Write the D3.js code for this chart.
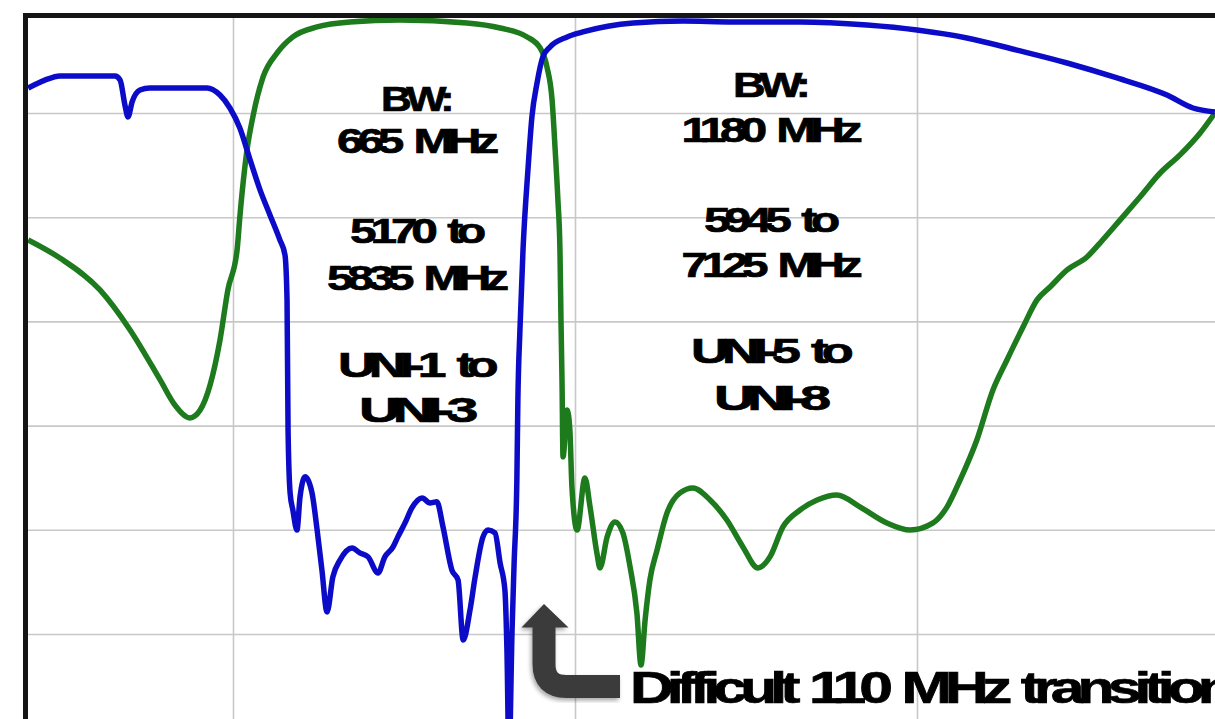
<!DOCTYPE html>
<html>
<head>
<meta charset="utf-8">
<script src="https://cdn.jsdelivr.net/npm/d3@7"></script>
<style>
  html, body { margin: 0; padding: 0; background: #fff; }
  svg { display: block; }
  .lbl { font-family: "Liberation Sans", Arial, sans-serif; font-weight: bold; fill: #000; stroke: #000; stroke-width: 0.7; }
</style>
</head>
<body>
<svg id="chart" width="1215" height="719"></svg>
<script>
// Frequency axis (MHz) and response (dB) samples for the two filter traces
const blueFreq = [4401,4450,4494,4655,4670,4684,4693,4705,4728,4757,4924,4962,4991,5020,5050,5079,5108,5137,5152,5158,5161,5167,5175,5187,5196,5211,5231,5246,5260,5275,5292,5313,5348,5371,5395,5424,5444,5468,5482,5503,5523,5553,5576,5596,5614,5640,5658,5673,5693,5708,5731,5746,5766,5781,5795,5801,5807,5816,5822,5830,5833,5839,5848,5863,5874,5889,5906,5927,5977,6023,6170,6316,6462,6658,6854,7000,7146,7292,7439,7585,7731,7807,7871];
const blueDb = [-3.80,-3.42,-3.22,-3.22,-3.42,-4.62,-5.19,-4.47,-3.90,-3.80,-3.80,-4.14,-4.76,-5.72,-7.25,-8.69,-9.89,-11.09,-11.81,-13.97,-20.21,-23.23,-24.05,-25.01,-23.42,-22.46,-23.23,-25.01,-26.93,-28.94,-27.26,-26.45,-25.87,-26.11,-26.30,-27.07,-26.30,-25.82,-25.34,-24.67,-23.95,-23.47,-23.71,-23.66,-24.86,-26.93,-27.41,-30.29,-28.85,-27.26,-25.34,-25.01,-25.15,-26.59,-27.89,-30.77,-36.0,-29.81,-26.59,-22.61,-18.77,-15.41,-11.57,-7.59,-5.19,-3.56,-2.31,-1.83,-1.35,-1.11,-0.68,-0.59,-0.63,-0.63,-0.78,-1.02,-1.40,-1.98,-2.60,-3.32,-4.14,-4.76,-4.95];

const greenFreq = [4401,4494,4611,4699,4787,4830,4874,4904,4933,4962,4985,5012,5020,5041,5058,5088,5129,5175,5246,5342,5488,5684,5781,5860,5898,5918,5933,5942,5950,5956,5959,5962,5965,5977,5985,5991,6006,6029,6044,6064,6073,6094,6117,6140,6161,6181,6193,6205,6219,6240,6269,6307,6345,6395,6444,6491,6535,6570,6608,6658,6708,6766,6833,6912,6980,7047,7088,7126,7175,7222,7263,7310,7351,7389,7439,7497,7535,7594,7652,7711,7769,7828,7871];
const greenDb = [-11.09,-11.96,-13.49,-15.41,-17.81,-19.01,-19.63,-19.25,-18.05,-15.89,-13.49,-11.57,-9.99,-6.77,-5.19,-3.27,-2.12,-1.35,-0.87,-0.63,-0.54,-0.68,-0.92,-1.35,-1.88,-2.79,-4.38,-6.77,-9.17,-11.57,-14.93,-17.81,-21.50,-19.25,-20.21,-22.94,-25.01,-22.51,-23.90,-26.11,-26.83,-25.34,-24.62,-25.15,-26.78,-28.99,-31.49,-29.33,-27.41,-25.97,-24.19,-23.23,-22.99,-23.57,-24.53,-25.82,-26.83,-26.30,-24.86,-24.05,-23.57,-23.33,-23.90,-24.67,-25.01,-24.67,-23.90,-22.61,-20.69,-18.29,-16.85,-15.27,-13.97,-13.35,-12.53,-11.91,-11.24,-10.13,-9.03,-7.88,-7.01,-5.96,-5.00];

// Grid positions
const freqTicks = [5000, 6000, 7000];
const dbTicks = [-5, -10, -15, -20, -25, -30];

// Band annotations (one array of lines per passband)
const lowBandLines = ["BW:", "665 MHz", "5170 to", "5835 MHz", "UNI-1 to", "UNI-3"];
const highBandLines = ["BW:", "1180 MHz", "5945 to", "7125 MHz", "UNI-5 to", "UNI-8"];
const calloutText = "Difficult 110 MHz transition";

// ---- layout ----
const W = 1215, H = 719;
const frame = { left: 25.5, top: 15.5, stroke: 5 };
const inner = { x0: 28, y0: 18 };

const x = d3.scaleLinear().domain([5000, 7000]).range([233, 917]);
const y = d3.scaleLinear().domain([0, -30]).range([8.8, 634]);

const svg = d3.select("#chart");
const defs = svg.append("defs");
defs.append("clipPath").attr("id", "plotClip")
  .append("rect").attr("x", inner.x0).attr("y", inner.y0)
  .attr("width", W - inner.x0).attr("height", H - inner.y0);
const shadow = defs.append("filter").attr("id", "soft")
  .attr("x", "-20%").attr("y", "-20%").attr("width", "140%").attr("height", "140%");
shadow.append("feDropShadow").attr("dx", -1.5).attr("dy", 2.5)
  .attr("stdDeviation", 2).attr("flood-color", "#000").attr("flood-opacity", 0.35);

svg.append("rect").attr("width", W).attr("height", H).attr("fill", "#fff");

// gridlines
const grid = svg.append("g").attr("clip-path", "url(#plotClip)");
grid.append("g")
  .attr("transform", `translate(0,${H})`)
  .call(d3.axisBottom(x).tickValues(freqTicks).tickSize(H).tickFormat(""))
  .call(g => g.select(".domain").remove())
  .call(g => g.selectAll("line").attr("stroke", "#c8c8c8").attr("stroke-width", 1.6)
    .attr("y2", -H));
grid.append("g")
  .attr("transform", `translate(${W},0)`)
  .call(d3.axisLeft(y).tickValues(dbTicks).tickSize(W).tickFormat(""))
  .call(g => g.select(".domain").remove())
  .call(g => g.selectAll("line").attr("stroke", "#c8c8c8").attr("stroke-width", 1.6));

// traces
const line = d3.line()
  .x(d => x(d[0]))
  .y(d => y(d[1]))
  .curve(d3.curveMonotoneX);

const traces = svg.append("g").attr("clip-path", "url(#plotClip)");
traces.append("path")
  .datum(d3.zip(greenFreq, greenDb))
  .attr("d", line)
  .attr("fill", "none")
  .attr("stroke", "#1d7a1d")
  .attr("stroke-width", 5.5)
  .attr("stroke-linejoin", "round");
traces.append("path")
  .datum(d3.zip(blueFreq, blueDb))
  .attr("d", line)
  .attr("fill", "none")
  .attr("stroke", "#0c0cc8")
  .attr("stroke-width", 5.5)
  .attr("stroke-linejoin", "round");

// frame (left and top edges)
svg.append("path")
  .attr("d", `M${frame.left},${H} V${frame.top} H${W}`)
  .attr("fill", "none")
  .attr("stroke", "#151515")
  .attr("stroke-width", frame.stroke)
  .attr("stroke-linejoin", "miter");

// band text blocks
const lowLayout = { cx: 415, baselines: [111, 153, 243, 290, 377, 422], widths: [68, 156, 130, 176, 154, 112] };
const highLayout = { cx: 769, baselines: [97, 142, 232, 277, 363, 410], widths: [72, 175, 130, 175, 156, 110] };

function drawBlock(lines, layout) {
  svg.append("g").selectAll("text")
    .data(lines)
    .join("text")
    .attr("class", "lbl")
    .attr("x", layout.cx)
    .attr("y", (d, i) => layout.baselines[i])
    .attr("text-anchor", "middle")
    .attr("font-size", 35)
    .attr("letter-spacing", -4.5)
    .attr("word-spacing", 6)
    .attr("textLength", (d, i) => layout.widths[i])
    .attr("lengthAdjust", "spacingAndGlyphs")
    .text(d => d);
}
drawBlock(lowBandLines, lowLayout);
drawBlock(highBandLines, highLayout);

// callout arrow
const arrow = svg.append("g").attr("filter", "url(#soft)");
arrow.append("path")
  .attr("d", "M544,626 V664 Q544,686.5 566.5,686.5 H620")
  .attr("fill", "none")
  .attr("stroke", "#3b3b3b")
  .attr("stroke-width", 23);
arrow.append("path")
  .attr("d", "M521.5,627.5 L544,604 L568.5,627.5 Z")
  .attr("fill", "#3b3b3b");

// callout text
svg.append("text")
  .attr("class", "lbl")
  .attr("x", 630)
  .attr("y", 703)
  .attr("font-size", 44)
  .attr("letter-spacing", -5)
  .attr("word-spacing", 4)
  .attr("textLength", 598)
  .attr("lengthAdjust", "spacingAndGlyphs")
  .text(calloutText);
</script>
</body>
</html>
